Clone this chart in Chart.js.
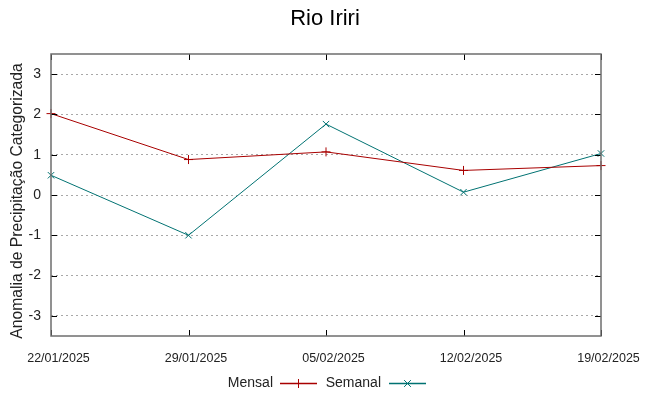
<!DOCTYPE html>
<html>
<head>
<meta charset="utf-8">
<script src="https://cdn.jsdelivr.net/npm/chart.js@4"></script>
<style>
    html, body { margin: 0; padding: 0; background: #fff; }
    #wrap { width: 649px; height: 396px; position: relative; }
</style>
</head>
<body>
<div id="wrap"><canvas id="chart"></canvas></div>
<script>
// chart data
const labels = ['22/01/2025', '29/01/2025', '05/02/2025', '12/02/2025', '19/02/2025'];
const mensal = [2.02, 0.88, 1.07, 0.61, 0.73];
const semanal = [0.49, -1.0, 1.76, 0.07, 1.03];
const yTicks = [-3, -2, -1, 0, 1, 2, 3];

const FONT = '"Liberation Sans", Arial, sans-serif';
const RED = '#a80000';
const TEAL = '#007272';

function drawMarker(ctx, style, x, y, r) {
    ctx.beginPath();
    if (style === 'cross') {
        ctx.moveTo(x - r, y); ctx.lineTo(x + r, y);
        ctx.moveTo(x, y - r); ctx.lineTo(x, y + r);
    } else {
        const d = r * 0.75;
        ctx.moveTo(x - d, y - d); ctx.lineTo(x + d, y + d);
        ctx.moveTo(x - d, y + d); ctx.lineTo(x + d, y - d);
    }
    ctx.stroke();
}

// frame, inward tick marks, titles and legend (gnuplot look)
const decorations = {
    id: 'decorations',
    afterDatasetsDraw(chart) {
        const { ctx, chartArea: a, scales } = chart;
        ctx.save();
        ctx.strokeStyle = '#000';
        ctx.lineWidth = 1;
        yTicks.forEach(v => {
            const y = Math.round(scales.y.getPixelForValue(v)) + 0.5;
            ctx.beginPath();
            ctx.moveTo(a.left, y); ctx.lineTo(a.left + 6, y);
            ctx.moveTo(a.right, y); ctx.lineTo(a.right - 6, y);
            ctx.stroke();
        });
        labels.forEach((l, i) => {
            const x = Math.round(scales.x.getPixelForValue(i)) + 0.5;
            ctx.beginPath();
            ctx.moveTo(x, a.bottom); ctx.lineTo(x, a.bottom - 6);
            ctx.moveTo(x, a.top); ctx.lineTo(x, a.top + 6);
            ctx.stroke();
        });
        ctx.strokeStyle = '#6e6e6e';
        ctx.lineWidth = 1.5;
        ctx.strokeRect(a.left, a.top, a.right - a.left, a.bottom - a.top);

        // title
        ctx.fillStyle = '#000';
        ctx.font = '22px ' + FONT;
        ctx.textAlign = 'center';
        ctx.textBaseline = 'middle';
        ctx.fillText('Rio Iriri', 325, 19);

        // y axis title
        ctx.save();
        ctx.translate(18, 201);
        ctx.rotate(-Math.PI / 2);
        ctx.fillStyle = '#222';
        ctx.font = '15.7px ' + FONT;
        ctx.fillText('Anomalia de Precipitação Categorizada', 0, 0);
        ctx.restore();

        // legend: text then line sample
        const items = [
            { text: 'Mensal', color: RED, style: 'cross', textRight: 273, lineStart: 280 },
            { text: 'Semanal', color: TEAL, style: 'crossRot', textRight: 381, lineStart: 389 }
        ];
        ctx.font = '14px ' + FONT;
        ctx.textAlign = 'right';
        const ly = 383;
        items.forEach(it => {
            ctx.fillStyle = '#222';
            ctx.fillText(it.text, it.textRight, ly);
            ctx.strokeStyle = it.color;
            ctx.lineWidth = 1.3;
            ctx.beginPath();
            ctx.moveTo(it.lineStart, ly + 0.5);
            ctx.lineTo(it.lineStart + 37, ly + 0.5);
            ctx.stroke();
            ctx.lineWidth = 1;
            drawMarker(ctx, it.style, it.lineStart + 18.5, ly + 0.5, 4.5);
        });
        ctx.restore();
    }
};

new Chart(document.getElementById('chart'), {
    type: 'line',
    data: {
        labels: labels,
        datasets: [{
            label: 'Mensal',
            data: mensal,
            borderColor: RED,
            backgroundColor: RED,
            borderWidth: 1,
            pointStyle: 'cross',
            pointRadius: 4.5,
            pointBorderWidth: 1,
            tension: 0
        }, {
            label: 'Semanal',
            data: semanal,
            borderColor: TEAL,
            backgroundColor: TEAL,
            borderWidth: 1,
            pointStyle: 'crossRot',
            pointRadius: 4.5,
            pointBorderWidth: 1,
            tension: 0
        }]
    },
    options: {
        responsive: true,
        maintainAspectRatio: false,
        animation: false,
        layout: { padding: { top: 54, right: 48, left: 0, bottom: 0 } },
        plugins: {
            legend: { display: false },
            title: { display: false },
            tooltip: { enabled: false }
        },
        scales: {
            x: {
                type: 'category',
                offset: false,
                afterFit: s => { s.height = 60; },
                grid: { display: false, drawTicks: false },
                border: { display: false },
                ticks: {
                    color: '#222',
                    font: { family: FONT, size: 12.5 },
                    padding: 15,
                    labelOffset: 7.5,
                    maxRotation: 0,
                    autoSkip: false
                }
            },
            y: {
                min: -3.5,
                max: 3.5,
                afterFit: s => { s.width = 51; },
                afterBuildTicks: s => { s.ticks = yTicks.map(v => ({ value: v })); },
                grid: {
                    drawTicks: false,
                    color: '#a8a8a8',
                    lineWidth: 1
                },
                border: { display: false, dash: [2, 3] },
                ticks: {
                    color: '#222',
                    font: { family: FONT, size: 14 },
                    padding: 10
                }
            }
        }
    },
    plugins: [decorations]
});
</script>
</body>
</html>
